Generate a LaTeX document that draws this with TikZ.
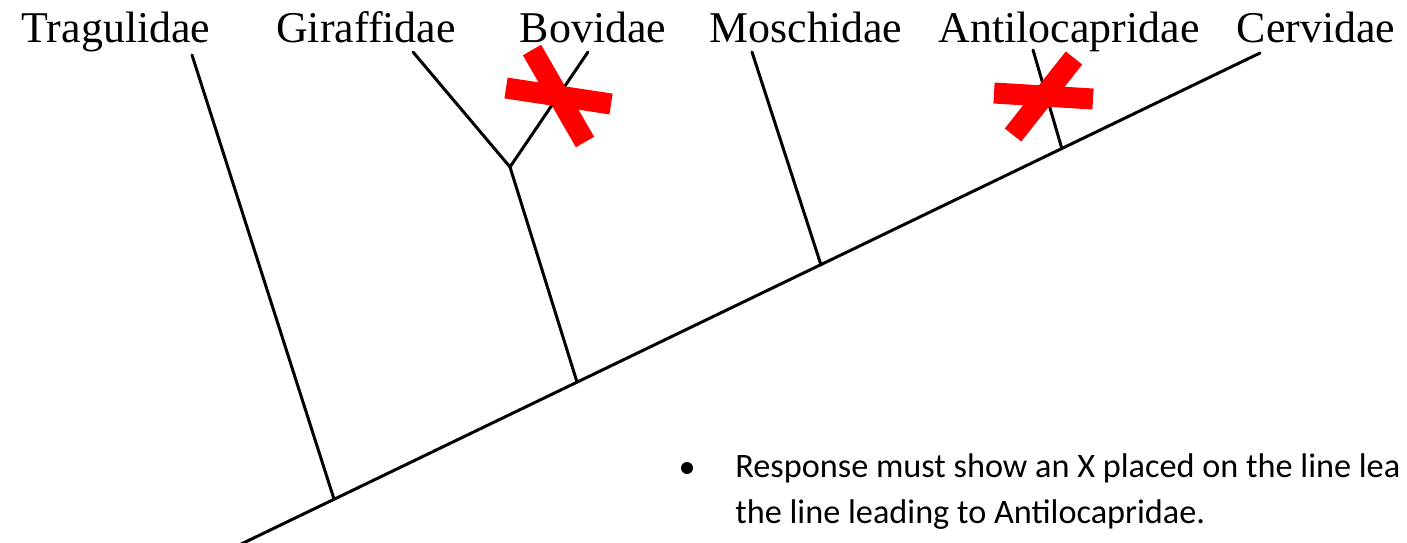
\documentclass[tikz,border=0pt]{standalone}
\usepackage{xcolor}
\usepackage{tikz}
\usepackage{fontspec}
\setmainfont{Liberation Serif}
\newfontfamily\notefont{Carlito}
\definecolor{crossred}{RGB}{255,0,0}
\usetikzlibrary{positioning,calc}

\begin{document}
\begin{tikzpicture}[
    x=0.02cm, y=-0.02cm,
    taxon/.style={anchor=base, inner sep=0pt, font=\fontsize{25}{30}\selectfont},
    branch/.style={line width=1.7pt, line cap=round},
    cross/.style={draw=crossred, line width=21*0.02cm},
    note/.style={anchor=base west, inner sep=0pt, font=\notefont\fontsize{19.5}{26}\selectfont}
]
\useasboundingbox (0,0) rectangle (1407,542);
\clip (0,0) rectangle (1407,542);

\node[taxon] (tragulidae) at (116,42) {Tragulidae};
\node[taxon] (giraffidae) at (366,42) {Giraffidae};
\node[taxon] (bovidae) at (593,42) {Bovidae};
\node[taxon] (moschidae) at (806,42) {Moschidae};
\node[taxon] (antilocapridae) at (1069,42) {Antilocapridae};
\node[taxon] (cervidae) at (1316,42) {Cervidae};

\coordinate (tragulidae-tip) at (192,55);
\coordinate (giraffidae-tip) at (413,52);
\coordinate (bovidae-tip) at (588,52);
\coordinate (moschidae-tip) at (752,52);
\coordinate (antilocapridae-tip) at (1033,50);
\coordinate (cervidae-tip) at (1260,53);

\coordinate (root) at (235,547);
\coordinate (split1) at (334,499);
\coordinate (split2) at (577,382);
\coordinate (split3) at (821,265);
\coordinate (split4) at (1062,149);
\coordinate (gb) at (510,167);

\draw[branch] (root) -- (cervidae-tip);
\draw[branch] (split1) -- (tragulidae-tip);
\draw[branch] (split2) -- (gb);
\draw[branch] (gb) -- (giraffidae-tip);
\draw[branch] (gb) -- (bovidae-tip);
\draw[branch] (split3) -- (moschidae-tip);
\draw[branch] (split4) -- (antilocapridae-tip);

\coordinate (x1a) at (532,50);
\coordinate (x1b) at (585,142);
\coordinate (x1c) at (506,88);
\coordinate (x1d) at (611,104);
\draw[cross] (x1a) -- (x1b);
\draw[cross] (x1c) -- (x1d);

\coordinate (x2a) at (994,93);
\coordinate (x2b) at (1093,99);
\coordinate (x2c) at (1074,58);
\coordinate (x2d) at (1013,135);
\draw[cross] (x2a) -- (x2b);
\draw[cross] (x2c) -- (x2d);

\node[circle, fill=black, inner sep=0pt, minimum size=12*0.02cm] (bullet) at (687,468) {};
\node[note] (line1) at (735,477) {Response must show an X placed on the line lea};
\node[note] (line2) at (735,523) {the line leading to Antilocapridae.};

\end{tikzpicture}
\end{document}
